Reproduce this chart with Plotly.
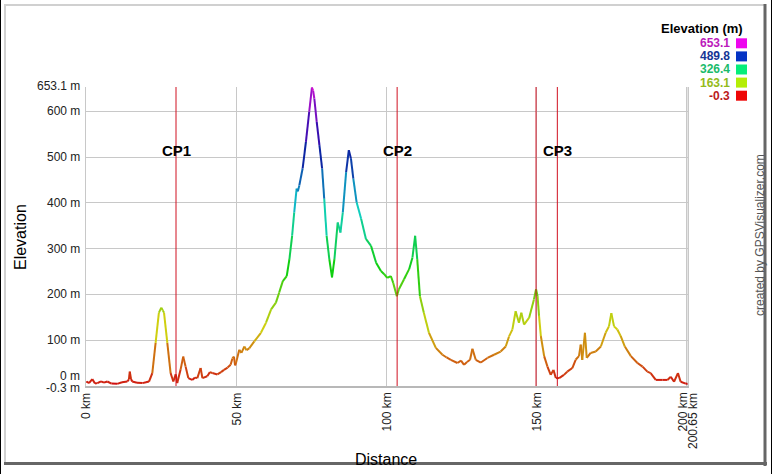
import colorsys
import plotly.graph_objects as go

# ---------------- data ----------------
distance_km = [
    0, 0.2, 1.0, 2.1, 3.0, 3.8, 5.0, 6.0, 7.1, 8.5, 10.4, 12.0, 13.8, 14.3, 14.6, 15.0, 15.4,
    17.0, 18.8, 20.0, 21.0, 22.1, 23.2, 24.3, 25.1, 25.6, 26.0, 27.1, 28.2, 29.1, 29.9, 30.4,
    31.5, 32.4, 33.2, 34.1, 35.4, 36.3, 37.1, 38.2, 38.8, 40.4, 41.3, 42.1, 43.8, 45.0, 46.0,
    47.2, 48.2, 48.8, 49.3, 49.7,
    50.0, 51.1, 51.8, 52.8, 53.5, 54.4, 56.1, 58.3, 60.0, 61.7, 63.3, 64.4, 65.6, 66.9, 67.8,
    68.7, 69.4, 70.2, 70.6, 71.1, 72.2, 73.3, 74.4, 75.3, 75.7, 76.1, 76.9, 77.8, 78.7, 79.4,
    80.2, 81.1, 82.0, 82.8, 83.9, 84.8, 85.6, 86.7, 87.6, 88.3, 89.1, 90.2, 91.7, 93.3, 95.0,
    96.7, 98.3, 99.4,
    100.4, 101.6, 102.4, 103.6, 104.3, 106.0, 107.7, 108.8, 109.7, 110.4, 111.3, 112.6, 114.3,
    116.6, 118.8, 120.2, 121.6, 123.8, 125.0, 126.0, 127.0, 128.0, 128.8, 129.9, 131.6, 133.8,
    136.0, 138.2, 139.9, 141.0, 142.1, 143.2, 144.3, 145.1, 146.0, 147.7, 149.3, 150.0,
    150.5, 151.0, 151.6, 152.7, 153.8, 154.9, 155.8, 156.6, 157.7, 159.3, 160.4, 162.1, 163.2,
    164.3, 164.9, 165.4, 166.3, 166.9, 168.2, 169.9, 171.6, 173.2, 174.3, 175.1, 176.0, 177.1,
    178.2, 179.6, 181.6, 183.8, 185.5, 187.1, 188.2, 189.9, 192.1, 193.8, 194.9, 196.0, 197.3,
    198.2, 199.9, 200.65,
]
elevation_m = [
    8, 9.5, 6, 14.7, 5, 6, 10, 7, 9.5, 5, 4.4, 8, 9.5, 14, 31, 15, 9.5,
    7, 6, 8, 9.5, 28, 94, 160, 171, 165, 160, 94, 28, 9.5, 25, 6,
    35, 64, 42, 17, 13, 18, 17, 39, 17, 21, 30, 28, 25, 30, 35,
    40, 46, 60, 64, 45,
    50, 79, 72, 86, 78, 82, 97, 116, 138, 167, 182, 204, 229, 240, 277,
    328, 379, 431, 425, 438, 475, 533, 599, 652, 645, 628, 577, 526, 475, 409,
    328, 277, 237, 277, 357, 335, 379, 467, 515, 497, 453, 401, 365, 321, 306,
    269, 251, 244,
    236, 240, 225, 196, 211, 233, 255, 280, 328, 277, 196, 160, 116,
    83, 68, 62, 57, 50, 55, 46, 52, 57, 81, 57, 51, 61,
    68, 75, 86, 108, 123, 163, 138, 160, 134, 149, 189, 211,
    196, 153, 109, 65, 42, 24, 35, 17, 17, 24, 31, 39, 57,
    65, 90, 57, 116, 61, 72, 75, 86, 116, 130, 159, 130, 123,
    109, 86, 65, 50, 42, 31, 28, 13, 13, 13, 20, 9, 28,
    9, 5, 4,
]

cp_names = ["CP1", "CP2", "", "CP3"]
cp_km = [30.0, 103.7, 150.0, 157.1]

legend_values = [653.1, 489.8, 326.4, 163.1, -0.3]
y_tick_vals = [600, 500, 400, 300, 200, 100]
x_tick_vals = [0, 50, 100, 150, 200]
x_max = 200.65
y_min = -0.3
y_max = 653.1

# ---------------- geometry helpers ----------------
W, H = 772, 474
L, R, T, B = 86, 688, 87, 386


def pxx(x):
    return (x - L) / (R - L)


def pxy(y):
    return (B - y) / (B - T)


def elev_color(e, light=0.45, sat=0.95):
    t = (e - y_min) / (y_max - y_min)
    t = min(max(t, 0.0), 1.0)
    # darker in the blue range, as in the reference
    lt = light - 0.10 * max(0.0, 1 - abs(t - 0.78) / 0.2)
    r, g, b = colorsys.hls_to_rgb(300.0 * t / 360.0, lt, sat)
    return f"rgb({int(r*255)},{int(g*255)},{int(b*255)})"


fig = go.Figure()

# elevation line coloured by height: segments grouped into colour bins
nbins = 60
groups = {}
for i in range(len(distance_km) - 1):
    m = (elevation_m[i] + elevation_m[i + 1]) / 2.0
    k = int(round((m - y_min) / (y_max - y_min) * nbins))
    gx, gy = groups.setdefault(k, ([], []))
    gx += [distance_km[i], distance_km[i + 1], None]
    gy += [elevation_m[i], elevation_m[i + 1], None]

for k in sorted(groups):
    gx, gy = groups[k]
    e = y_min + k / nbins * (y_max - y_min)
    fig.add_trace(go.Scatter(x=gx, y=gy, mode="lines",
                             line=dict(color=elev_color(e, 0.44, 0.85), width=2),
                             hoverinfo="skip", showlegend=False))

shapes = []
annotations = []

# checkpoint lines and labels
for name, km in zip(cp_names, cp_km):
    shapes.append(dict(type="line", xref="x", yref="paper", x0=km, x1=km, y0=0, y1=1,
                       line=dict(color="#d01020", width=1)))
    if name:
        annotations.append(dict(x=km, xref="x", y=pxy(150), yref="paper", text=f"<b>{name}</b>",
                                showarrow=False, xanchor="center", yanchor="middle",
                                font=dict(size=15, color="#000000", family="Arial")))

# y tick labels
tick_font = dict(size=12, color="#222222", family="Arial")
for v in y_tick_vals:
    annotations.append(dict(x=0, xref="paper", y=v, yref="y", text=f"{v} m", showarrow=False,
                            xanchor="right", yanchor="middle", xshift=-4, font=tick_font))
annotations.append(dict(x=0, xref="paper", y=y_max, yref="y", text=f"{y_max} m", showarrow=False,
                        xanchor="right", yanchor="middle", xshift=-4, yshift=1, font=tick_font))
annotations.append(dict(x=0, xref="paper", y=0, yref="y", text="0 m", showarrow=False,
                        xanchor="right", yanchor="middle", xshift=-4, yshift=10, font=tick_font))
annotations.append(dict(x=0, xref="paper", y=y_min, yref="y", text=f"{y_min} m", showarrow=False,
                        xanchor="right", yanchor="middle", xshift=-4, yshift=-2, font=tick_font))

# x tick labels (rotated)
for v in x_tick_vals:
    annotations.append(dict(x=v, xref="x", y=0, yref="paper", text=f"{v} km", showarrow=False,
                            textangle=-90, xanchor="center", yanchor="top", yshift=-5,
                            xshift=(-4 if v == 200 else 0), font=tick_font))
annotations.append(dict(x=x_max, xref="x", y=0, yref="paper", text=f"{x_max} km", showarrow=False,
                        textangle=-90, xanchor="center", yanchor="top", yshift=-5, xshift=5,
                        font=tick_font))

# axis titles
annotations.append(dict(x=pxx(386), xref="paper", y=pxy(459), yref="paper", text="Distance",
                        showarrow=False, xanchor="center", yanchor="middle",
                        font=dict(size=16, color="#000000", family="Arial")))
annotations.append(dict(x=pxx(20), xref="paper", y=pxy(237), yref="paper", text="Elevation",
                        showarrow=False, textangle=-90, xanchor="center", yanchor="middle",
                        font=dict(size=16, color="#000000", family="Arial")))

# credit
annotations.append(dict(x=pxx(760), xref="paper", y=pxy(235), yref="paper",
                        text="created by GPSVisualizer.com", showarrow=False, textangle=-90,
                        xanchor="center", yanchor="middle",
                        font=dict(size=12, color="#555555", family="Arial")))

# colour legend
annotations.append(dict(x=pxx(745), xref="paper", y=pxy(29), yref="paper", text="<b>Elevation (m)</b>",
                        showarrow=False, xanchor="right", yanchor="middle",
                        font=dict(size=13, color="#000000", family="Arial")))
for i, v in enumerate(legend_values):
    yc = 43.3 + 13.1 * i
    annotations.append(dict(x=pxx(732), xref="paper", y=pxy(yc), yref="paper", text=f"<b>{v}</b>",
                            showarrow=False, xanchor="right", yanchor="middle",
                            font=dict(size=12, color=elev_color(v, 0.42, 0.75), family="Arial")))
    shapes.append(dict(type="rect", xref="paper", yref="paper", x0=pxx(736), x1=pxx(747),
                       y0=pxy(yc + 5), y1=pxy(yc - 5), line=dict(width=0),
                       fillcolor=elev_color(v, 0.48)))

# outer frame
frame = [
    (0.5, 0, 0.5, H, "#000000", 1),
    (W - 0.5, 0, W - 0.5, H, "#000000", 1),
    (4, 5, 766, 5, "#d0d0d0", 2),
    (5, 4, 5, 464, "#d0d0d0", 2),
    (765, 4, 765, 466, "#666666", 3),
    (4, 463.5, 767, 463.5, "#666666", 3),
]
for x0, y0, x1, y1, c, w in frame:
    shapes.append(dict(type="line", xref="paper", yref="paper", x0=pxx(x0), y0=pxy(y0),
                       x1=pxx(x1), y1=pxy(y1), line=dict(color=c, width=w)))

grid = "#c8c8c8"
fig.update_layout(
    width=W, height=H,
    margin=dict(l=L, r=W - R, t=T, b=H - B),
    paper_bgcolor="white", plot_bgcolor="white",
    xaxis=dict(range=[0, x_max], tickvals=x_tick_vals + [x_max], showticklabels=False,
               showgrid=True, gridcolor=grid, gridwidth=1, zeroline=False,
               showline=True, linecolor="#b8b8b8", linewidth=2, mirror=False, ticks=""),
    yaxis=dict(range=[y_min, y_max], tickvals=[y_min, 0] + y_tick_vals + [y_max],
               showticklabels=False, showgrid=True, gridcolor=grid, gridwidth=1,
               zeroline=False, showline=True, linecolor=grid, linewidth=1, mirror=True, ticks=""),
    shapes=shapes,
    annotations=annotations,
    showlegend=False,
)
fig.add_shape(type="line", xref="paper", yref="paper", x0=1, x1=1, y0=0, y1=1,
              line=dict(color=grid, width=1))

fig.write_html("out.html",
               config={"displayModeBar": False},
               post_script="document.body.style.margin='0';document.body.style.padding='0';"
                           "document.body.style.overflow='hidden';")
